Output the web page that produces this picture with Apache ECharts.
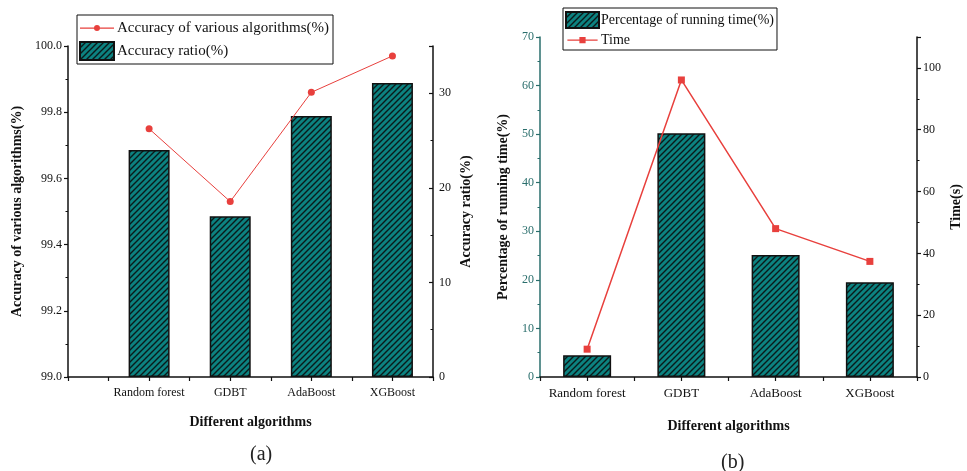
<!DOCTYPE html>
<html>
<head>
<meta charset="utf-8">
<script src="https://cdn.jsdelivr.net/npm/echarts@6/dist/echarts.min.js"></script>
<style>
  html, body { margin: 0; padding: 0; background: #fff; }
  #chart { width: 967px; height: 471px; }
</style>
</head>
<body>
<div id="chart"></div>
<script>
// Algorithms compared in both panels
const categories = ['Random forest', 'GDBT', 'AdaBoost', 'XGBoost'];

// Panel (a): accuracy per algorithm (left axis) and accuracy ratio (right axis)
const accuracyValues = [99.75, 99.53, 99.86, 99.97];
const accuracyRatio = [24.0, 17.0, 27.6, 31.1];

// Panel (b): share of total running time (left axis) and running time in seconds (right axis)
const runningShare = [4.5, 50.2, 25.1, 19.5];
const runningTime = [9.0, 96.1, 48.0, 37.4];

const FONT = '"Liberation Serif", "Times New Roman", serif';
const TEAL = '#0c8280';
const RED = '#e8403d';
const AXIS_TEAL = '#2a6e6c';

// Teal fill with black "/" hatching for the bars
function hatchPattern() {
  const s = 6;
  const c = document.createElement('canvas');
  c.width = s; c.height = s;
  const g = c.getContext('2d');
  g.fillStyle = TEAL;
  g.fillRect(0, 0, s, s);
  g.strokeStyle = '#0a1a1a';
  g.lineWidth = 1.4;
  g.beginPath();
  g.moveTo(-1, s + 1); g.lineTo(s + 1, -1);
  g.moveTo(-1, 1); g.lineTo(1, -1);
  g.moveTo(s - 1, s + 1); g.lineTo(s + 1, s - 1);
  g.stroke();
  return { image: c, repeat: 'repeat' };
}
const hatch = hatchPattern();

// Legend icons for the line series: a thin stroke with a small marker in the middle.
// Zero-size corner specks keep the icon's box at the full legend item size.
const corners = 'M0,0L0.01,0L0,0.01Z M34,18L33.99,18L34,17.99Z ';
const lineDotIcon = 'path://' + corners + 'M0,8.5H34V9.7H0Z M17,6.1A3,3 0 1,1 16.99,6.1Z';
const lineSquareIcon = 'path://' + corners + 'M0,8.3H34V9.9H0Z M13.5,5.6H20.5V12.6H13.5Z';

const pos = (arr) => arr.map((v, i) => [i + 1, v]);
const catLabel = v => {
  const i = Math.round(v);
  return Math.abs(v - i) < 1e-6 && i >= 1 && i <= categories.length ? categories[i - 1] : '';
};

const tickLabel = (color) => ({ fontFamily: FONT, fontSize: 12, color: color || '#111', margin: 6 });
const axisName = { fontFamily: FONT, fontSize: 14, fontWeight: 'bold', color: '#111' };

const chart = echarts.init(document.getElementById('chart'), null, { renderer: 'canvas' });

chart.setOption({
  animation: false,
  backgroundColor: '#fff',
  grid: [
    { left: 68, top: 46, width: 365, height: 331 },
    { left: 540, top: 37, width: 377, height: 340 }
  ],
  legend: [
    {
      data: [
        { name: 'Accuracy of various algorithms(%)', icon: lineDotIcon },
        { name: 'Accuracy ratio(%)', icon: 'rect' }
      ],
      orient: 'vertical', left: 77, top: 15,
      padding: [4, 4, 3, 2], itemGap: 4, itemWidth: 34, itemHeight: 18,
      borderColor: '#111', borderWidth: 1, backgroundColor: '#fff',
      textStyle: { fontFamily: FONT, fontSize: 15, color: '#111', padding: [0, 0, 0, -2] },
      selectedMode: false
    },
    {
      data: [
        { name: 'Percentage of running time(%)', icon: 'rect' },
        { name: 'Time', icon: lineSquareIcon }
      ],
      orient: 'vertical', left: 563, top: 8,
      padding: [3, 3, 2, 2], itemGap: 3, itemWidth: 33, itemHeight: 16,
      borderColor: '#111', borderWidth: 1, backgroundColor: '#fff',
      textStyle: { fontFamily: FONT, fontSize: 14, color: '#111', padding: [0, 0, 0, -3] },
      selectedMode: false
    }
  ],
  xAxis: [
    {
      gridIndex: 0, type: 'value', min: 0, max: 4.5, interval: 0.5,
      name: 'Different algorithms', nameLocation: 'middle', nameGap: 38, nameTextStyle: axisName,
      axisLine: { lineStyle: { color: '#111', width: 1.5 } },
      axisTick: { length: 4, lineStyle: { color: '#111', width: 1.2 } },
      axisLabel: Object.assign(tickLabel(), { formatter: catLabel, margin: 10 }),
      splitLine: { show: false }
    },
    {
      gridIndex: 1, type: 'value', min: 0.5, max: 4.5, interval: 0.5,
      name: 'Different algorithms', nameLocation: 'middle', nameGap: 42, nameTextStyle: axisName,
      axisLine: { lineStyle: { color: '#111', width: 1.5 } },
      axisTick: { length: 4, lineStyle: { color: '#111', width: 1.2 } },
      axisLabel: Object.assign(tickLabel(), { formatter: catLabel, margin: 10, fontSize: 13 }),
      splitLine: { show: false }
    }
  ],
  yAxis: [
    {
      gridIndex: 0, type: 'value', min: 99.0, max: 100.0, interval: 0.2, position: 'left',
      name: 'Accuracy of various algorithms(%)', nameLocation: 'middle', nameGap: 44, nameRotate: 90,
      nameTextStyle: axisName,
      axisLine: { show: true, lineStyle: { color: '#111', width: 1.5 } },
      axisTick: { length: 4, lineStyle: { color: '#111', width: 1.2 } },
      minorTick: { show: true, splitNumber: 2, length: 2.5, lineStyle: { color: '#111' } },
      axisLabel: Object.assign(tickLabel(), { formatter: v => v.toFixed(1) }),
      splitLine: { show: false }
    },
    {
      gridIndex: 0, type: 'value', min: 0, max: 35, interval: 10, position: 'right',
      name: 'Accuracy ratio(%)', nameLocation: 'middle', nameGap: 26, nameRotate: 90,
      nameTextStyle: axisName,
      axisLine: { show: true, lineStyle: { color: '#111', width: 1.5 } },
      axisTick: { inside: true, length: 4, lineStyle: { color: '#111', width: 1.2 } },
      minorTick: { show: true, splitNumber: 2, length: 2.5, lineStyle: { color: '#111' } },
      axisLabel: Object.assign(tickLabel(), { showMaxLabel: false }),
      splitLine: { show: false }
    },
    {
      gridIndex: 1, type: 'value', min: 0, max: 70, interval: 10, position: 'left',
      name: 'Percentage of running time(%)', nameLocation: 'middle', nameGap: 30, nameRotate: 90,
      nameTextStyle: axisName,
      axisLine: { show: true, lineStyle: { color: AXIS_TEAL, width: 1.5 } },
      axisTick: { length: 4, lineStyle: { color: AXIS_TEAL, width: 1.2 } },
      minorTick: { show: true, splitNumber: 2, length: 2.5, lineStyle: { color: AXIS_TEAL } },
      axisLabel: tickLabel(AXIS_TEAL),
      splitLine: { show: false }
    },
    {
      gridIndex: 1, type: 'value', min: 0, max: 110, interval: 20, position: 'right',
      name: 'Time(s)', nameLocation: 'middle', nameGap: 32, nameRotate: 90,
      nameTextStyle: axisName,
      axisLine: { show: true, lineStyle: { color: '#111', width: 1.5 } },
      axisTick: { length: 4, lineStyle: { color: '#111', width: 1.2 } },
      minorTick: { show: true, splitNumber: 2, length: 2.5, lineStyle: { color: '#111' } },
      axisLabel: Object.assign(tickLabel(), { showMaxLabel: false }),
      splitLine: { show: false }
    }
  ],
  series: [
    {
      name: 'Accuracy ratio(%)', type: 'bar', xAxisIndex: 0, yAxisIndex: 1,
      data: pos(accuracyRatio), barWidth: 41,
      itemStyle: { color: hatch, borderColor: '#111', borderWidth: 1.5 }
    },
    {
      name: 'Accuracy of various algorithms(%)', type: 'line', xAxisIndex: 0, yAxisIndex: 0,
      data: pos(accuracyValues), symbol: 'circle', symbolSize: 7,
      lineStyle: { color: RED, width: 1 }, itemStyle: { color: RED }, z: 5
    },
    {
      name: 'Percentage of running time(%)', type: 'bar', xAxisIndex: 1, yAxisIndex: 2,
      data: pos(runningShare), barWidth: 48,
      itemStyle: { color: hatch, borderColor: '#111', borderWidth: 1.5 }
    },
    {
      name: 'Time', type: 'line', xAxisIndex: 1, yAxisIndex: 3,
      data: pos(runningTime), symbol: 'rect', symbolSize: 7,
      lineStyle: { color: RED, width: 1.5 }, itemStyle: { color: RED }, z: 5
    }
  ],
  graphic: [
    { type: 'text', left: 250, top: 445, style: { text: '(a)', font: '20px ' + FONT, fill: '#222' } },
    { type: 'text', left: 721, top: 453, style: { text: '(b)', font: '20px ' + FONT, fill: '#222' } }
  ]
});
</script>
</body>
</html>
